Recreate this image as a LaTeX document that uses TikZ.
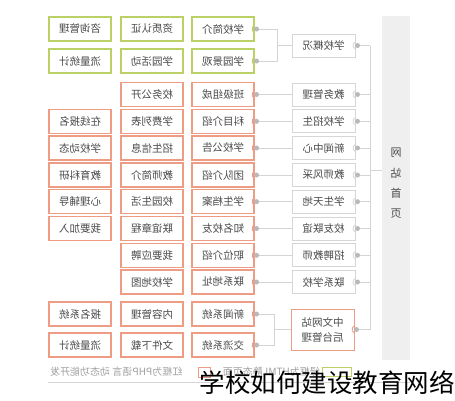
\documentclass[tikz,border=0pt]{standalone}
\usepackage{fontspec}
\usepackage{graphicx}
\usetikzlibrary{positioning, calc}
\newfontfamily\cjk{Noto Sans CJK SC}
\newcommand{\flipt}[1]{\reflectbox{#1}}
\definecolor{grnline}{HTML}{BCD165}
\definecolor{redline}{HTML}{EE9C84}
\definecolor{gryline}{HTML}{D6D6D6}
\definecolor{wireclr}{HTML}{D4D4D4}
\definecolor{barclr}{HTML}{EFEFEF}
\definecolor{txtclr}{HTML}{4A4A4A}

\begin{document}
\begin{tikzpicture}[x=1pt, y=-1pt, font=\cjk\fontsize{10.5}{12}\selectfont, text=txtclr,
    card/.style={draw, fill=white, line width=1pt, minimum width=62pt, minimum height=24pt, inner sep=0pt},
    grncard/.style={card, draw=grnline, line width=1.1pt},
    redcard/.style={card, draw=redline, line width=1.1pt},
    grycard/.style={card, draw=gryline, minimum width=63pt, minimum height=23pt},
    wire/.style={draw=wireclr, line width=0.8pt},
    knob/.style={circle, fill=gray!55, inner sep=0pt, minimum size=5pt}]
    \useasboundingbox (0,0) rectangle (455,400);

    % right bar
    \node[fill=barclr, minimum width=28pt, minimum height=344pt, inner sep=0pt, anchor=north west] (bar) at (382,16) {};
    \node[align=center, font=\cjk\fontsize{11}{20.3}\selectfont] (home) at (396,183.5) {\flipt{网}\\\flipt{站}\\\flipt{首}\\\flipt{页}};

    % level 1
    \node[grycard] (about)   at (323.5,45.5) {\flipt{学校概况}};
    \node[grycard] (edu)     at (323.5,94.5) {\flipt{教务管理}};
    \node[grycard] (enrol)   at (323.5,121.3) {\flipt{学校招生}};
    \node[grycard] (news)    at (323.5,148) {\flipt{新闻中心}};
    \node[grycard] (staff)   at (323.5,175) {\flipt{教师风采}};
    \node[grycard] (pupil)   at (323.5,201.7) {\flipt{学生天地}};
    \node[grycard] (alumni)  at (323.5,228.5) {\flipt{校友联谊}};
    \node[grycard] (hire)    at (323.5,255.3) {\flipt{招聘教师}};
    \node[grycard] (contact) at (323.5,282) {\flipt{联系学校}};
    \node[grycard, draw=redline, minimum height=41pt, align=center, font=\cjk\fontsize{10.5}{15}\selectfont] (admin) at (322.5,329.5) {\flipt{中文网站}\\\flipt{后台管理}};

    % level 2
    \node[grncard] (intro)  at (223,29) {\flipt{学校简介}};
    \node[grncard] (scene)  at (223,61) {\flipt{学园景观}};
    \node[redcard] (klass)  at (223,94.5) {\flipt{班级组成}};
    \node[redcard] (subj)   at (223,121.3) {\flipt{科目介绍}};
    \node[redcard] (notice) at (223,148) {\flipt{学校公告}};
    \node[redcard] (team)   at (223,175) {\flipt{团队介绍}};
    \node[redcard] (record) at (223,201.7) {\flipt{学生档案}};
    \node[redcard] (famous) at (223,228.5) {\flipt{知名校友}};
    \node[redcard] (post)   at (223,255.3) {\flipt{职位介绍}};
    \node[redcard] (addr)   at (223,282) {\flipt{联系地址}};
    \node[redcard] (newsys) at (223,314) {\flipt{新闻系统}};
    \node[redcard] (chat)   at (223,345) {\flipt{交流系统}};

    % level 3
    \node[grncard] (cert)  at (152,29) {\flipt{资质认证}};
    \node[grncard] (act)   at (152,61) {\flipt{学园活动}};
    \node[redcard] (open)  at (152,94.5) {\flipt{校务公开}};
    \node[redcard] (fee)   at (152,121.3) {\flipt{学费列表}};
    \node[redcard] (info)  at (152,148) {\flipt{招生信息}};
    \node[redcard] (bio)   at (152,175) {\flipt{教师简介}};
    \node[redcard] (life)  at (152,201.7) {\flipt{校园生活}};
    \node[redcard] (rule)  at (152,228.5) {\flipt{联谊章程}};
    \node[redcard] (apply) at (152,255.3) {\flipt{我要应聘}};
    \node[redcard] (map)   at (152,282) {\flipt{学校地图}};
    \node[redcard] (cms)   at (152,314) {\flipt{内容管理}};
    \node[redcard] (files) at (152,345) {\flipt{文件下载}};

    % level 4
    \node[grncard] (consult)  at (80,29) {\flipt{咨询管理}};
    \node[grncard] (stat)     at (80,61) {\flipt{流量统计}};
    \node[redcard] (signup)   at (80,121.3) {\flipt{在线报名}};
    \node[redcard] (trend)    at (80,148) {\flipt{学校动态}};
    \node[redcard] (research) at (80,175) {\flipt{教育科研}};
    \node[redcard] (mind)     at (80,201.7) {\flipt{心理辅导}};
    \node[redcard] (join)     at (80,228.5) {\flipt{我要加入}};
    \node[redcard] (reg)      at (80,314) {\flipt{报名系统}};
    \node[redcard] (statb)    at (80,345) {\flipt{流量统计}};

    % connectors
    \coordinate (spine) at (370,0);
    \coordinate (forkA) at (277,0);
    \coordinate (forkB) at (274,0);
    \coordinate (hub) at (370,170);
    \draw[wire] (intro.east) -| (forkA |- about) -- (about.west);
    \draw[wire] (scene.east) -| (forkA |- about);
    \draw[wire] (newsys.east) -| (forkB |- admin) -- (admin.west);
    \draw[wire] (chat.east) -| (forkB |- admin);
    \foreach \src/\dst in {klass/edu, subj/enrol, notice/news, team/staff, record/pupil, famous/alumni, post/hire, addr/contact}
        \draw[wire] (\src.east) -- (\dst.west);
    \foreach \lvl in {about, edu, enrol, news, staff, pupil, alumni, hire, contact, admin}
        \draw[wire] (\lvl.east) -- (\lvl.east -| spine);
    \draw[wire] (about.east -| spine) -- (admin.east -| spine);
    \draw[wire] (hub) -- (hub -| bar.west);

    % knobs
    \foreach \n/\c in {intro/grnline, scene/grnline, klass/redline, subj/redline, notice/redline, team/redline, record/redline, famous/redline, post/redline, addr/redline, newsys/redline, chat/redline, about/gryline, edu/gryline, enrol/gryline, news/gryline, staff/gryline, pupil/gryline, alumni/gryline, hire/gryline, contact/gryline, admin/redline} {
        \draw[\c, line width=0.8pt] ($(\n.east)+(2,0)$) ++(110:4.5pt) arc[start angle=110, end angle=250, radius=4.5pt];
        \node[knob] at ($(\n.east)+(2,0)$) {};
    }

    % legend line
    \draw[gryline, line width=0.8pt] (48,382) -- (410,382);
    \node[anchor=west, inner sep=0pt, font=\cjk\fontsize{10}{12}\selectfont, text=gray!75] (notered) at (50,372) {\flipt{红框为PHP语言 动态功能开发}};
    \node[draw=redline, fill=white, minimum width=12pt, minimum height=10pt, inner sep=0pt] (legred) at (204,372) {};
    \node[anchor=east, inner sep=0pt, font=\cjk\fontsize{10}{12}\selectfont, text=gray!75] (notegrn) at (320,372) {\flipt{绿框为HTML静态页面}};
    \node[draw=grnline, fill=white, minimum width=29pt, minimum height=9pt, inner sep=0pt] (leggrn) at (337,371.5) {};

    % caption
    \node[anchor=east, inner sep=0pt, font=\cjk\fontsize{25.5}{30}\selectfont, text=black] (caption) at (455,383) {学校如何建设教育网络};
\end{tikzpicture}
\end{document}
